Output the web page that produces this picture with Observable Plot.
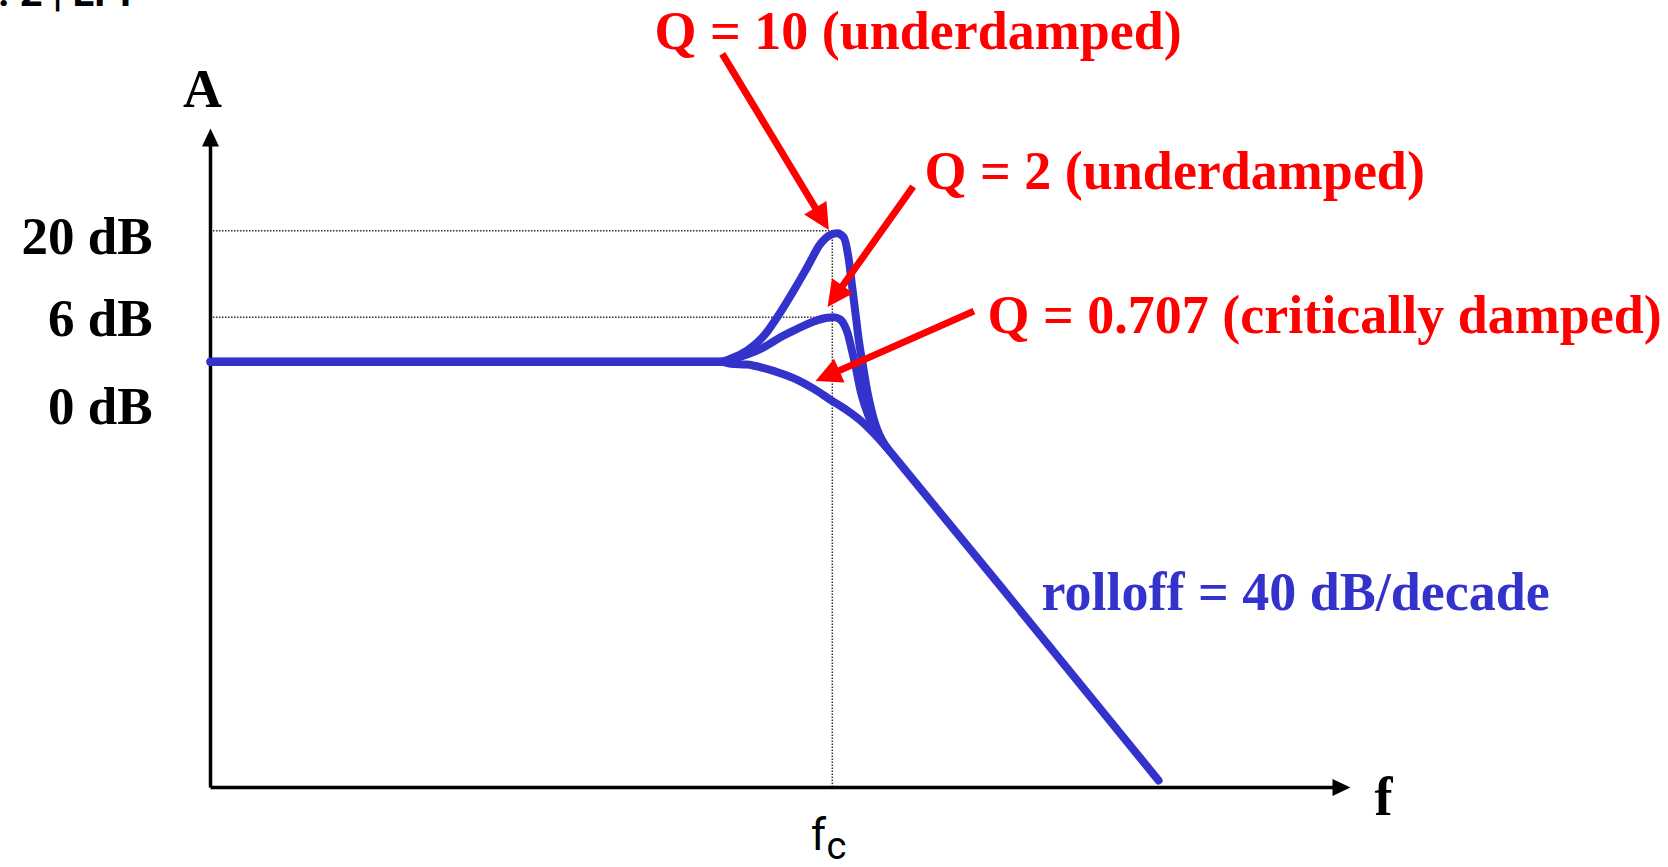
<!DOCTYPE html>
<html><head><meta charset="utf-8">
<script src="https://cdn.jsdelivr.net/npm/d3@7"></script>
<script src="https://cdn.jsdelivr.net/npm/@observablehq/plot@0.6"></script>
<style>html,body{margin:0;padding:0;background:#fff;overflow:hidden}</style>
</head><body><div id="chart"></div>
<script>
// ---- data (x: log10(f/fc) in decades, y: gain in dB) ----
const q10X = [-3, -0.539, -0.491, -0.411, -0.322, -0.266, -0.186, -0.121, -0.057, -0.009, 0.024, 0.055, 0.080, 0.096, 0.112, 0.128, 0.149, 0.168, 0.193, 0.26];
const q10Y = [0, 0, 0.44, 1.71, 4.26, 6.79, 10.87, 14.43, 18.0, 19.37, 19.62, 19.0, 15.45, 11.37, 7.31, 3.24, -0.84, -4.40, -7.95, -13.0];
const q2X = [-3, -0.539, -0.491, -0.411, -0.330, -0.250, -0.169, -0.089, -0.025, 0.007, 0.036, 0.059, 0.075, 0.091, 0.113, 0.136, 0.165, 0.197, 0.26];
const q2Y = [0, 0, 0.34, 1.10, 2.21, 3.74, 5.02, 6.14, 6.70, 6.79, 6.49, 5.53, 4.26, 2.21, -0.84, -4.40, -7.45, -10.0, -13.0];
const q707X = [-3, -0.539, -0.491, -0.411, -0.330, -0.250, -0.169, -0.089, -0.009, 0.072, 0.136, 0.184, 0.26];
const q707Y = [0, 0, -0.32, -0.43, -0.99, -1.76, -2.76, -4.14, -5.82, -7.45, -8.98, -10.40, -13.0];
// common 40 dB/decade asymptote after the curves merge
const rollX = [0.26, 0.812, 1.574];
const rollY = [-13.0, -34.3, -63.93];

const refLevels = [20, 6.8];          // dotted guide levels (dB)
const fcPos = [0];                    // cutoff frequency
const yTickValues = [19.05, 6.53, -6.9];
const yTickLabels = ["20 dB", "6 dB", "0 dB"];

// red annotations
const noteText = ["Q = 10 (underdamped)", "Q = 2 (underdamped)", "Q = 0.707 (critically damped)"];
const noteX = [-0.858, 0.445, 0.749];
const noteY = [50.4, 28.93, 6.95];
const noteTail = [[-0.531, 47.0], [0.390, 26.75], [0.683, 7.72]];
const noteTip = [[-0.017, 20.1], [-0.023, 8.35], [-0.081, -2.95]];

const rolloffText = ["rolloff = 40 dB/decade"];
const rolloffX = [1.009];
const rolloffY = [-35.34];

const axisLabelText = ["A", "f"];
const axisLabelX = [-3.039, 2.659];
const axisLabelY = [41.45, -66.59];
const fcText = ["f", "c"];
const fcTextX = [-0.0667, 0.020];
const fcTextSize = [44, 38];
const fcTextY = [-72.4, -74.1];
const headerText = ["Ch. 2 | LPF"];
const headerX = [-4.259];
const headerY = [56.3];

// ---- layout ----
const W = 1668, H = 867;
const ML = 210, MR = 318, MT = 128, MB = 80;
const xDomain = [-3, 2.5], yDomain = [-65, 35.6];
const xRange = [ML, W - MR], yRange = [H - MB, MT];
const X = d3.scaleLinear().domain(xDomain).range(xRange);
const Y = d3.scaleLinear().domain(yDomain).range(yRange);

const BLUE = "#3333cc", RED = "#ff0000";
const SERIF = "'Liberation Serif', 'Times New Roman', serif";

const curves = [];
[[q10X, q10Y, "Q = 10"], [q2X, q2Y, "Q = 2"], [q707X, q707Y, "Q = 0.707"]].forEach(([xs, ys, name]) => {
  xs.forEach((x, i) => curves.push({name, x, y: ys[i]}));
});
const rolloff = rollX.map((x, i) => ({x, y: rollY[i]}));

// arrow geometry (filled triangle head) computed in screen space
function arrowParts(name, tail, tip, L, w) {
  const tx = X(tail[0]), ty = Y(tail[1]), px = X(tip[0]), py = Y(tip[1]);
  const len = Math.hypot(px - tx, py - ty);
  const ux = (px - tx) / len, uy = (py - ty) / len;
  const bx = px - L * ux, by = py - L * uy, nx = -uy, ny = ux;
  const head = [[px, py], [bx + w * nx, by + w * ny], [bx - w * nx, by - w * ny]]
    .map(([a, b]) => ({name, x: X.invert(a), y: Y.invert(b)}));
  const shaft = {name, x1: tail[0], y1: tail[1], x2: X.invert(bx + 2 * ux), y2: Y.invert(by + 2 * uy)};
  return {head, shaft};
}
const redHeads = [], redShafts = [];
noteTail.forEach((t, i) => {
  const a = arrowParts("n" + i, t, noteTip[i], 26, 13);
  redHeads.push(...a.head); redShafts.push(a.shaft);
});
const axHeads = [], axShafts = [];
[[[xDomain[0], yDomain[0]], [xDomain[1], yDomain[0]]], [[xDomain[0], yDomain[0]], [xDomain[0], yDomain[1]]]].forEach(([t, p], i) => {
  const a = arrowParts("a" + i, t, p, 18, 8.5);
  axHeads.push(...a.head); axShafts.push(a.shaft);
});

const plot = Plot.plot({
  width: W, height: H,
  marginLeft: ML, marginRight: MR, marginTop: MT, marginBottom: MB,
  style: {fontFamily: SERIF, fontSize: "53px", fontWeight: "bold", color: "black", background: "white", overflow: "hidden"},
  x: {domain: xDomain, range: xRange, axis: null},
  y: {domain: yDomain, range: yRange, ticks: yTickValues, tickSize: 0, tickPadding: 58,
      tickFormat: d => yTickLabels[yTickValues.indexOf(d)], label: null},
  marks: [
    Plot.ruleY(refLevels, {x1: xDomain[0], x2: fcPos[0], stroke: "#333", strokeWidth: 1.5, strokeDasharray: "1.5,1.5"}),
    Plot.ruleX(fcPos, {y1: yDomain[0], y2: refLevels[0], stroke: "#333", strokeWidth: 1.5, strokeDasharray: "1.5,1.5"}),
    Plot.link(axShafts, {x1: "x1", y1: "y1", x2: "x2", y2: "y2", stroke: "black", strokeWidth: 3.5}),
    Plot.line(axHeads, {x: "x", y: "y", z: "name", fill: "black", stroke: "none"}),
    Plot.line(curves, {x: "x", y: "y", z: "name", stroke: BLUE, strokeWidth: 8, curve: "monotone-x", strokeLinejoin: "round", strokeLinecap: "round"}),
    Plot.line(rolloff, {x: "x", y: "y", stroke: BLUE, strokeWidth: 8, curve: "linear"}),
    Plot.link(redShafts, {x1: "x1", y1: "y1", x2: "x2", y2: "y2", stroke: RED, strokeWidth: 7}),
    Plot.line(redHeads, {x: "x", y: "y", z: "name", fill: RED, stroke: "none"}),
    Plot.text(noteText, {x: (d, i) => noteX[i], y: (d, i) => noteY[i], text: d => d, textAnchor: "start",
      fill: RED, fontFamily: SERIF, fontWeight: "bold", fontSize: 54}),
    Plot.text(rolloffText, {x: (d, i) => rolloffX[i], y: (d, i) => rolloffY[i], text: d => d, textAnchor: "start",
      fill: BLUE, fontFamily: SERIF, fontWeight: "bold", fontSize: 54}),
    Plot.text(axisLabelText, {x: (d, i) => axisLabelX[i], y: (d, i) => axisLabelY[i], text: d => d, textAnchor: "middle",
      fill: "black", fontFamily: SERIF, fontWeight: "bold", fontSize: 54}),
    Plot.text(fcText, {x: (d, i) => fcTextX[i], y: (d, i) => fcTextY[i], text: d => d, textAnchor: "middle",
      fill: "black", fontFamily: "Roboto, sans-serif", fontWeight: "normal", fontSize: (d, i) => fcTextSize[i]}),
    Plot.text(headerText, {x: (d, i) => headerX[i], y: (d, i) => headerY[i], text: d => d, textAnchor: "start",
      fill: "black", fontFamily: "Roboto, sans-serif", fontWeight: "bold", fontSize: 40})
  ]
});
document.getElementById("chart").appendChild(plot);
</script>
</body></html>
